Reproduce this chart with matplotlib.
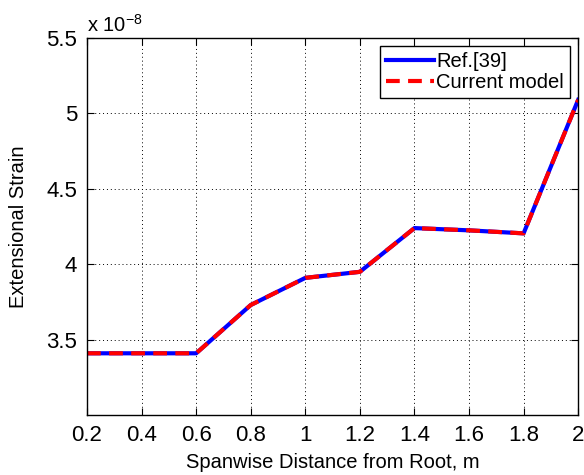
import numpy as np
import matplotlib.pyplot as plt

plt.rcParams['font.family'] = ['Liberation Sans', 'DejaVu Sans']

########################## data ##################################
span = [0.2, 0.4, 0.6, 0.8, 1.0, 1.2, 1.4, 1.6, 1.8, 2.0]
strain_ref = [3.41, 3.41, 3.41, 3.73, 3.91, 3.95, 4.24, 4.225, 4.205, 5.09]
strain_model = [3.41, 3.41, 3.41, 3.73, 3.91, 3.95, 4.24, 4.225, 4.205, 5.09]
scale = 1e-8

xticks = [0.2, 0.4, 0.6, 0.8, 1, 1.2, 1.4, 1.6, 1.8, 2]
yticks = [3.5, 4, 4.5, 5, 5.5]

########################## plot ##################################
fig = plt.figure(figsize=(5.84, 4.75), dpi=100)
ax = fig.add_axes([0.149, 0.126, 0.841, 0.794])

ax.plot(span, np.array(strain_ref), color='blue', lw=3, label='Ref.[39]')
ax.plot(span, np.array(strain_model), color='red', lw=3, ls=(0, (3.3, 2.0)), label='Current model')

ax.set_xlim(0.2, 2)
ax.set_ylim(3.0, 5.5)
ax.set_xticks(xticks)
ax.set_xticklabels(['%g' % t for t in xticks])
ax.set_yticks(yticks)
ax.set_yticklabels(['%g' % t for t in yticks])
ax.tick_params(direction='in', top=True, right=True, labelsize=16, length=5, width=0.8, pad=7)
ax.grid(True, color='black', ls=(0, (1, 3)), lw=0.7)
for s in ax.spines.values():
    s.set_linewidth(1.0)

ax.set_xlabel('Spanwise Distance from Root, m', fontsize=14.5, labelpad=5)
ax.set_ylabel('Extensional Strain', fontsize=14.5, labelpad=13)
ax.text(0.0, 1.005, r'x 10$^{\mathregular{-8}}$', transform=ax.transAxes, fontsize=14.5, va='bottom', ha='left')

leg = ax.legend(loc='upper right', fontsize=14.5, fancybox=False, framealpha=1,
                edgecolor='black', handlelength=2.4, handletextpad=0.1,
                borderpad=0.3, labelspacing=0.1, borderaxespad=0.4)
leg.get_frame().set_linewidth(1.0)

plt.savefig('out.png', dpi=100)
